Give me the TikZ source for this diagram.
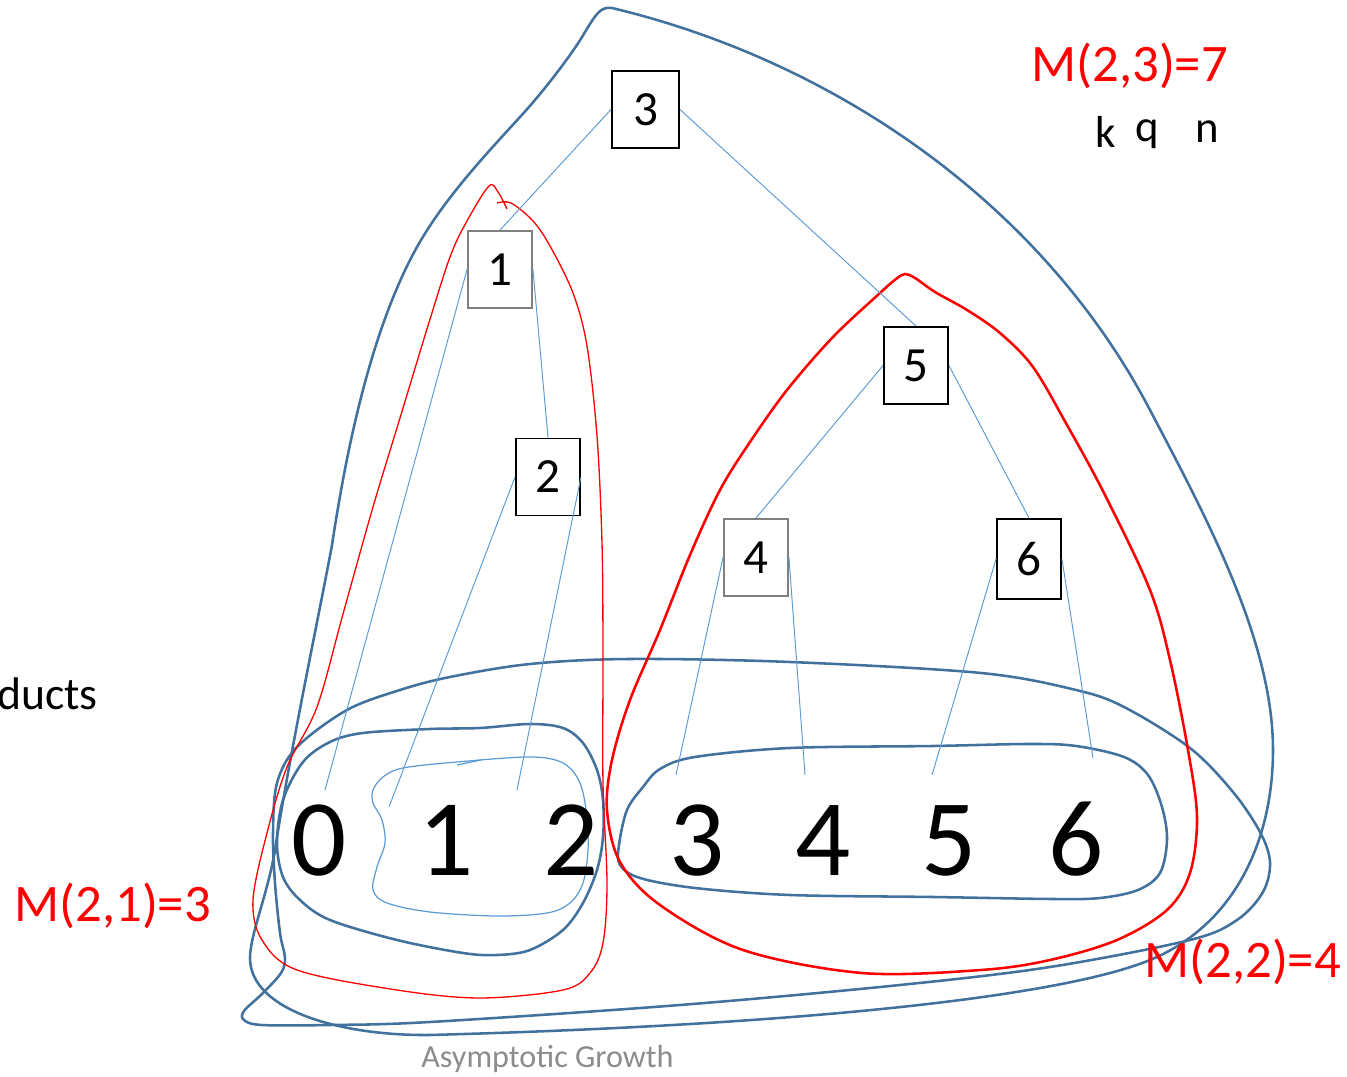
\documentclass[tikz,border=0pt]{standalone}
\usepackage{fontspec}
\setmainfont{Carlito}
\definecolor{setblue}{HTML}{41719C}
\definecolor{edgeblue}{HTML}{5B9BD5}
\definecolor{markred}{HTML}{FF0000}
\definecolor{boxgray}{HTML}{7F7F7F}
\definecolor{captiongray}{HTML}{8C8C8C}

\tikzset{
  treebox/.style={draw=black, line width=1.1pt, fill=white, inner sep=0pt,
    minimum width=1.28cm, minimum height=1.54cm, font=\fontsize{28}{28}\selectfont},
  graybox/.style={treebox, draw=boxgray},
  leaf/.style={inner sep=0pt, anchor=base, font=\fontsize{62}{62}\selectfont},
  label/.style={inner sep=0pt, anchor=base west, font=\fontsize{30}{30}\selectfont},
  redlabel/.style={label, text=markred},
  letter/.style={inner sep=0pt, anchor=base west, font=\fontsize{25.5}{25.5}\selectfont},
  treeedge/.style={draw=edgeblue, line width=0.55pt},
  setloop/.style={draw=setblue, line width=1.45pt},
  innerloop/.style={draw=edgeblue, line width=0.7pt},
  thinred/.style={draw=markred, line width=0.75pt},
  thickred/.style={draw=markred, line width=1.45pt},
}

\begin{document}
\begin{tikzpicture}[x=0.02cm, y=-0.02cm]
\useasboundingbox (0,0) rectangle (1347,1077);

% enclosing loops
% whole tree
\draw[setloop, line join=round]
  (612,8) .. controls (830,60) and (1040,200) .. (1150,410)
          .. controls (1205,515) and (1273,640) .. (1273,750)
          .. controls (1273,840) and (1235,925) .. (1150,960)
          .. controls (1060,997) and (800,1025) .. (430,1035)
          .. controls (340,1036) and (250,1010) .. (250,958)
          .. controls (250,935) and (268,893) .. (275,850)
          .. controls (290,752) and (320,610) .. (332,545)
          .. controls (342,480) and (365,340) .. (417,247)
          .. controls (445,197) and (490,150) .. (520,117)
          .. controls (545,90) and (575,50) .. (585,32)
          .. controls (595,16) and (600,6) .. cycle;
% all leaves
\draw[setloop] plot[smooth cycle, tension=0.55] coordinates {
  (347,710) (400,690) (450,677) (530,664) (630,659) (790,662) (981,673)
  (1076,690) (1124,707) (1190,748) (1233,792) (1260,832) (1270,862) (1263,892)
  (1237,920) (1190,940) (1050,967) (900,985) (680,1005) (430,1022) (330,1025)
  (262,1025) (244,1020) (244,1011) (263,993) (281,973) (285,958) (280,933)
  (275,883) (273,833) (277,783) (297,747)};
% leaves 0..2
\draw[setloop] plot[smooth cycle, tension=0.55] coordinates {
  (277,843) (283,800) (303,762) (330,742) (363,733) (430,729) (480,728)
  (530,724) (563,728) (583,743) (597,770) (603,800) (603,837) (597,870)
  (583,903) (563,930) (530,950) (497,955) (463,953) (397,940) (330,920)
  (300,900) (283,877)};
% leaves 3..6
\draw[setloop] plot[smooth cycle, tension=0.55] coordinates {
  (619,845) (627,810) (643,787) (660,769) (695,757) (790,748)
  (933,746) (1029,744) (1076,746) (1124,757) (1148,775) (1162,807) (1167,840)
  (1160,873) (1138,890) (1100,898) (1052,899) (933,897) (790,895) (695,888)
  (640,878) (620,865)};
% leaves 1..2
\draw[innerloop] plot[smooth cycle, tension=0.55] coordinates {
  (373,790) (383,777) (403,768) (457,762) (530,757) (563,763) (580,783)
  (587,817) (588,850) (583,883) (570,903) (547,913) (497,916) (430,912)
  (387,903) (373,890) (377,867) (385,843) (382,820) (373,803)};
\draw[innerloop] (457,765) -- (481,760);

% subtree of 1 with leaves 0..2
\draw[thinred] plot[smooth, tension=0.55] coordinates {
  (497,203) (511,203) (533,221) (550,246) (573,293) (587,346) (597,436)
  (602,543) (603,650) (603,783) (607,883) (603,943) (590,973) (563,990)
  (480,998) (397,990) (297,970) (262,940) (253,900) (267,833) (287,767)
  (317,707) (343,614) (373,507) (400,418) (427,329) (450,257) (467,221)
  (489,186) (498,192) (507,209)};
% subtree of 5 with leaves 3..6
\draw[thickred] plot[smooth cycle, tension=0.55] coordinates {
  (905,274) (915,278) (935,292) (967,310) (1000,333) (1033,367) (1067,425)
  (1105,495) (1150,590) (1170,660) (1188,750) (1197,817) (1190,873)
  (1167,910) (1117,940) (1050,960) (981,970) (862,973) (743,950) (660,905)
  (620,862) (607,810) (612,760) (630,700) (660,630) (690,555) (720,490)
  (750,442) (787,390) (833,337) (880,293) (896,279)};

% tree nodes
\node[treebox, minimum width=1.34cm] (n3) at (645.5,109.5) {3};
\node[graybox] (n1) at (500,269.5) {1};
\node[treebox] (n2) at (548,477) {2};
\node[treebox] (n5) at (916,365.5) {5};
\node[graybox] (n4) at (756,557.5) {4};
\node[treebox, minimum height=1.6cm] (n6) at (1029,559) {6};

% leaves
\node[leaf] (leaf0) at (319,876) {0};
\node[leaf] (leaf1) at (446,876) {1};
\node[leaf] (leaf2) at (571,876) {2};
\node[leaf] (leaf3) at (697,876) {3};
\node[leaf] (leaf4) at (823,876) {4};
\node[leaf] (leaf5) at (949,876) {5};
\node[leaf] (leaf6) at (1076,876) {6};

% ends of the leaf edges
\coordinate (tip0) at (325,790);
\coordinate (tip1) at (389,807);
\coordinate (tip2) at (517,790);
\coordinate (tip3) at (676,775);
\coordinate (tip4) at (805,775);
\coordinate (tip5) at (932,775);
\coordinate (tip6) at (1093,758);

% tree edges
\draw[treeedge] (n3.west) -- (n1.north);
\draw[treeedge] (n3.east) -- (n5.north);
\draw[treeedge] (n1.east) -- (n2.north);
\draw[treeedge] (n5.west) -- (n4.north);
\draw[treeedge] (n5.east) -- (n6.north);
\draw[treeedge] (n1.west) -- (tip0);
\draw[treeedge] (n2.west) -- (tip1);
\draw[treeedge] (n2.east) -- (tip2);
\draw[treeedge] (n4.west) -- (tip3);
\draw[treeedge] (n4.east) -- (tip4);
\draw[treeedge] (n6.west) -- (tip5);
\draw[treeedge] (n6.east) -- (tip6);

% labels
\node[redlabel] (m23) at (1031,82) {M(2,3)=7};
\node[redlabel] (m21) at (14,922) {M(2,1)=3};
\node[redlabel] (m22) at (1144,978) {M(2,2)=4};
\node[letter] (lk) at (1095,148) {k};
\node[letter] (lq) at (1135,142) {q};
\node[letter] (ln) at (1195,143) {n};
\node[label, font=\fontsize{26}{26}\selectfont] (ducts) at (-3,710) {ducts};
\node[inner sep=0pt, anchor=base west, text=captiongray,
      font=\fontsize{18.3}{18.3}\selectfont] (caption) at (421,1068) {Asymptotic Growth};
\end{tikzpicture}
\end{document}
